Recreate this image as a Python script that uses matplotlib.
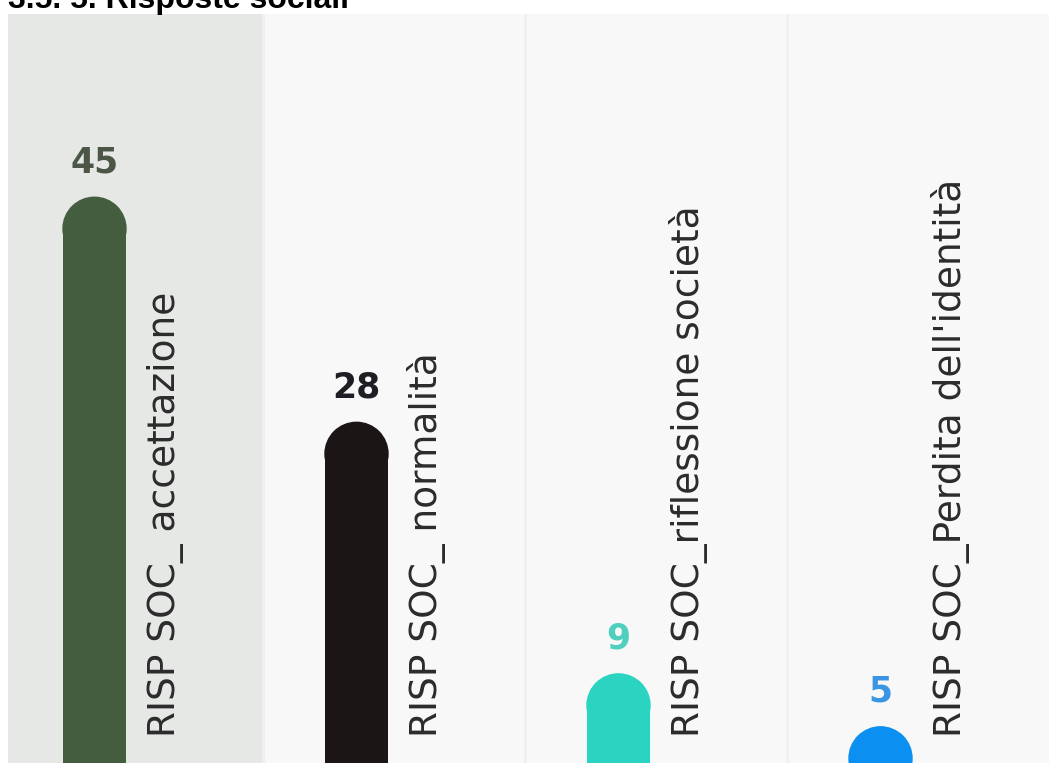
import matplotlib.pyplot as plt
from matplotlib.patches import Ellipse
import numpy as np

title = "3.5. 5. Risposte sociali"
categories = ["RISP SOC_ accettazione", "RISP SOC_ normalità",
              "RISP SOC_riflessione società", "RISP SOC_Perdita dell'identità"]
values = [45, 28, 9, 5]
bar_colors = ["#455d3f", "#1b1516", "#2bd4c0", "#0b8ff0"]
value_colors = ["#4b5646", "#1f1e24", "#4fcfbe", "#3a96e2"]
column_bg = ["#e6e8e6", "#f8f8f8", "#f8f8f8", "#f8f8f8"]

W, H, DPI = 1055, 763, 100
fig = plt.figure(figsize=(W / DPI, H / DPI), dpi=DPI)
fig.patch.set_facecolor("white")

# panel area in pixels
left_px, right_px, top_px = 8, 1049, 14
ax = fig.add_axes([left_px / W, 0, (right_px - left_px) / W, 1 - top_px / H])

col_px = 262.0
bar_offset_px = 86.5
x = np.arange(len(values))
xmin = -bar_offset_px / col_px
xmax = xmin + (right_px - left_px) / col_px
ax.set_xlim(xmin, xmax)
ax.set_ylim(2.27, 58.84)

# each column starts a bit left of the panel edge, so the first one is clipped
col_start = -(bar_offset_px + 7) / col_px
for i, c in enumerate(column_bg):
    ax.axvspan(i + col_start, i + col_start + 1, color=c, lw=0, zorder=0)
    if i > 0:
        ax.axvline(i + col_start, color="#f0f0f0", lw=2, zorder=0.5)

# rounded bar tops: rectangle + ellipse sized to look circular on screen
bar_w = 63 / col_px
px_per_unit = (H - top_px) / (58.84 - 2.27)
r = (63 / 2) / px_per_unit
ax.bar(x, np.array(values) - r, width=bar_w, color=bar_colors, zorder=2)
for xi, v, c in zip(x, values, bar_colors):
    ax.add_patch(Ellipse((xi, v - r), bar_w, 2 * r, color=c, zorder=2))

for xi, v, c in zip(x, values, value_colors):
    ax.annotate(str(v), (xi, v), xytext=(0, 18), textcoords="offset points",
                ha="center", va="baseline", fontsize=25, fontweight="bold",
                color=c, family="DejaVu Sans", zorder=3)

for xi, lab in zip(x, categories):
    ax.annotate(lab, (xi, 0), xycoords=("data", "axes fraction"),
                xytext=(58, 18.5), textcoords="offset points",
                rotation=90, rotation_mode="anchor", ha="left", va="baseline",
                fontsize=27, color="#2b2b2b", family="DejaVu Sans", zorder=3)

ax.axis("off")

fig.text(8 / W, 1 - 8 / H, title, ha="left", va="baseline", fontsize=23,
         fontweight="bold", family="Liberation Sans", color="black")

fig.savefig("out.png", dpi=DPI)
